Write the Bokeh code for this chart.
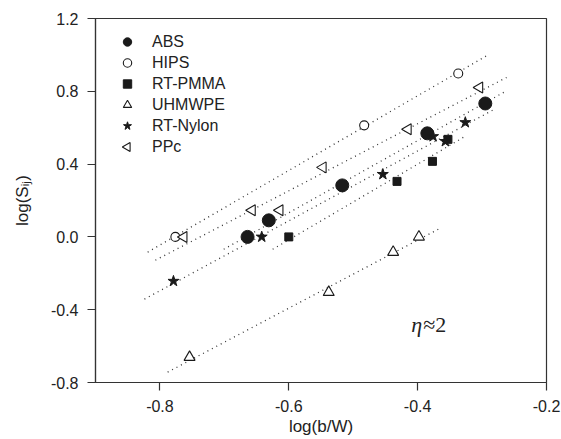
import math
from bokeh.plotting import figure
from bokeh.models import FixedTicker, PrintfTickFormatter, Label, Legend, LegendItem, Range1d
from bokeh.embed import file_html
from bokeh.resources import INLINE

# ---- data ----
abs_x = [-0.664, -0.631, -0.517, -0.385, -0.295]
abs_y = [0.0, 0.091, 0.283, 0.569, 0.733]
hips_x = [-0.776, -0.483, -0.337]
hips_y = [0.0, 0.613, 0.898]
pmma_x = [-0.600, -0.432, -0.377, -0.353]
pmma_y = [0.0, 0.305, 0.415, 0.536]
uhmwpe_x = [-0.754, -0.538, -0.438, -0.398]
uhmwpe_y = [-0.661, -0.304, -0.084, 0.0]
nylon_x = [-0.779, -0.642, -0.454, -0.376, -0.357, -0.326]
nylon_y = [-0.243, 0.0, 0.344, 0.552, 0.525, 0.629]
ppc_x = [-0.763, -0.657, -0.614, -0.547, -0.415, -0.304]
ppc_y = [0.0, 0.146, 0.146, 0.382, 0.591, 0.821]

# dotted fit lines: HIPS, PPc, ABS, RT-Nylon, RT-PMMA, UHMWPE
fit_x0 = [-0.819, -0.807, -0.701, -0.824, -0.625, -0.788]
fit_x1 = [-0.292, -0.262, -0.264, -0.281, -0.329, -0.368]
fit_y0 = [-0.084, -0.128, -0.068, -0.342, -0.068, -0.743]
fit_y1 = [0.997, 0.876, 0.799, 0.701, 0.547, 0.042]

x_ticks = [-0.8, -0.6, -0.4, -0.2]
y_ticks = [-0.8, -0.4, 0.0, 0.4, 0.8, 1.2]
series_names = ["ABS", "HIPS", "RT-PMMA", "UHMWPE", "RT-Nylon", "PPc"]

INK = "#1a1a1a"
FRAME = "#333333"
TXT = "#222222"
SANS = "Liberation Sans"
X0, X1, Y0, Y1 = -0.9, -0.2, -0.8, 1.2
BL, BR, BT, BB = 95, 15, 18, 57
W, H = 561, 439
PX_X = (W - BL - BR) / (X1 - X0)   # pixels per x unit
PX_Y = (H - BT - BB) / (Y1 - Y0)   # pixels per y unit

p = figure(width=W, height=H, x_range=Range1d(X0, X1), y_range=Range1d(Y0, Y1),
           output_backend="svg", toolbar_location=None,
           min_border_left=BL, min_border_right=BR, min_border_top=BT, min_border_bottom=BB)
p.xgrid.visible = False
p.ygrid.visible = False
p.outline_line_color = FRAME
p.outline_line_width = 1.2

for ax, ticks in ((p.xaxis, x_ticks), (p.yaxis, y_ticks)):
    ax.ticker = FixedTicker(ticks=ticks)
    ax.formatter = PrintfTickFormatter(format="%.1f")
    ax.major_tick_in = 0
    ax.major_tick_out = 8
    ax.minor_tick_out = 0
    ax.minor_tick_in = 0
    ax.axis_line_color = FRAME
    ax.axis_line_width = 1.2
    ax.major_tick_line_color = FRAME
    ax.major_tick_line_width = 1.2
    ax.major_label_text_font = SANS
    ax.major_label_text_font_size = "16px"
    ax.major_label_text_color = TXT
    ax.axis_label_text_font = SANS
    ax.axis_label_text_font_size = "17px"
    ax.axis_label_text_font_style = "normal"
    ax.axis_label_text_color = TXT
p.xaxis.major_label_standoff = 9
p.yaxis.major_label_standoff = 9
p.xaxis.axis_label = "log(b/W)"
p.xaxis.axis_label_standoff = 2
p.yaxis.axis_label = "log(Sᵢⱼ)"
p.yaxis.axis_label_standoff = 16

# fit lines
p.segment(x0=fit_x0, y0=fit_y0, x1=fit_x1, y1=fit_y1, line_color="#333333",
          line_width=1.3, line_dash="1 4")

r_abs = p.scatter(abs_x, abs_y, marker="circle", size=13, fill_color=INK, line_color=INK)
r_hips = p.scatter(hips_x, hips_y, marker="circle", size=9, fill_color="white", line_color=INK, line_width=1.1)
r_pmma = p.scatter(pmma_x, pmma_y, marker="square", size=8, fill_color=INK, line_color=INK)
r_uh = p.scatter(uhmwpe_x, uhmwpe_y, marker="triangle", size=11, fill_color="white", line_color=INK, line_width=1.1)
r_ny = p.scatter(nylon_x, nylon_y, marker="star", size=11.5, fill_color=INK, line_color=INK)
r_ppc = p.scatter(ppc_x, ppc_y, marker="triangle", size=11, angle=math.pi / 2,
                  fill_color="white", line_color=INK, line_width=1.1)

# legend: Bokeh never rotates legend glyphs, so the PPc key is a transparent proxy
# with a rotated marker placed on its row.
LEG_MARGIN, LEG_GW, LEG_ROW = 13, 38, 21
r_ppc_key = p.scatter([], [], marker="triangle", size=9, fill_alpha=0, line_alpha=0)
legend = Legend(items=[
    LegendItem(label=series_names[0], renderers=[r_abs]),
    LegendItem(label=series_names[1], renderers=[r_hips]),
    LegendItem(label=series_names[2], renderers=[r_pmma]),
    LegendItem(label=series_names[3], renderers=[r_uh]),
    LegendItem(label=series_names[4], renderers=[r_ny]),
    LegendItem(label=series_names[5], renderers=[r_ppc_key]),
], location="top_left")
legend.label_text_font = SANS
legend.label_text_font_size = "16px"
legend.label_text_color = TXT
legend.glyph_width = LEG_GW
legend.glyph_height = LEG_ROW
legend.label_height = LEG_ROW
legend.label_standoff = 6
legend.spacing = 0
legend.padding = 0
legend.margin = LEG_MARGIN
legend.border_line_color = None
legend.background_fill_alpha = 0
p.add_layout(legend)

key_px_x = LEG_MARGIN + LEG_GW / 2
key_px_y = LEG_MARGIN + LEG_ROW * 5 + LEG_ROW / 2
p.scatter([X0 + key_px_x / PX_X], [Y1 - key_px_y / PX_Y], marker="triangle", size=9,
          angle=math.pi / 2, fill_color="white", line_color=INK, line_width=1.1)

# eta annotation
eta_x, eta_y = -0.410, -0.481
p.add_layout(Label(x=eta_x, y=eta_y, text="η", text_font="Liberation Serif",
                   text_font_style="italic", text_font_size="22px", text_color=TXT,
                   text_baseline="alphabetic"))
p.add_layout(Label(x=eta_x + 12 / PX_X, y=eta_y, text="≈2", text_font="Liberation Serif",
                   text_font_size="22px", text_color=TXT, text_baseline="alphabetic"))

open("out.html", "w").write(file_html(p, INLINE))
